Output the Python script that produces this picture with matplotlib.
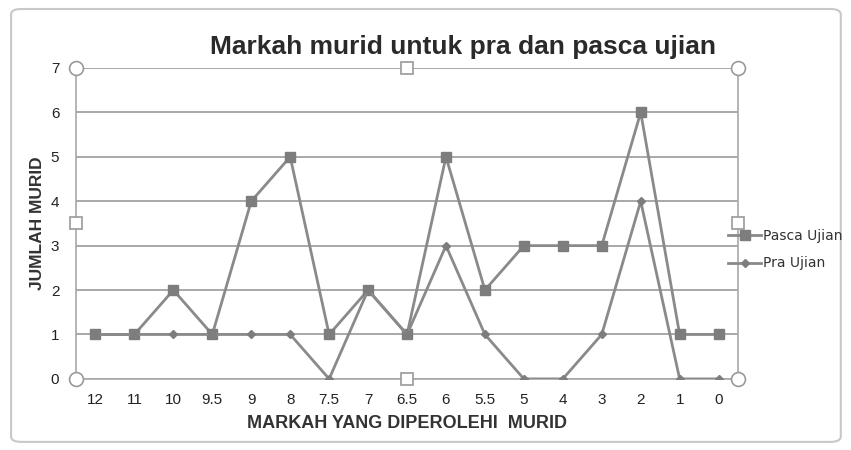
import matplotlib.pyplot as plt
from matplotlib.patches import FancyBboxPatch

categories = ["12", "11", "10", "9.5", "9", "8", "7.5", "7", "6.5", "6", "5.5", "5", "4", "3", "2", "1", "0"]
pasca = [1, 1, 2, 1, 4, 5, 1, 2, 1, 5, 2, 3, 3, 3, 6, 1, 1]
pra = [1, 1, 1, 1, 1, 1, 0, 2, 1, 3, 1, 0, 0, 1, 4, 0, 0]

narrow = ["Liberation Sans Narrow", "Liberation Sans", "DejaVu Sans"]

fig = plt.figure(figsize=(8.51, 4.5), dpi=100)
fig.patch.set_facecolor("white")

# outer chart frame (Excel-like)
frame = FancyBboxPatch((0.013, 0.018), 0.975, 0.962, boxstyle="round,pad=0,rounding_size=0.012",
                       transform=fig.transFigure, facecolor="white", edgecolor="#c8c8c8", lw=1.5,
                       zorder=-10)
fig.patches.append(frame)

ax = fig.add_axes([0.0893, 0.158, 0.778, 0.691])
ax.patch.set_alpha(0)
x = range(len(categories))
ax.plot(x, pasca, color="#8a8a8a", lw=2, marker="s", ms=7, mfc="#7d7d7d", mec="#7d7d7d",
        label="Pasca Ujian", zorder=3)
ax.plot(x, pra, color="#8a8a8a", lw=2, marker="D", ms=4, mfc="#7d7d7d", mec="#7d7d7d",
        label="Pra Ujian", zorder=3)

ax.set_xlim(-0.5, len(categories) - 0.5)
ax.set_ylim(0, 7)
ax.set_yticks(range(8))
ax.set_xticks(list(x))
ax.set_xticklabels(categories, fontsize=11, family=narrow, color="#222222")
ax.set_yticklabels([str(i) for i in range(8)], fontsize=11, family=narrow, color="#222222")
ax.tick_params(length=0, pad=10)
ax.tick_params(axis="y", pad=12)
ax.yaxis.grid(True, color="#9a9a9a", lw=1.2)
ax.set_axisbelow(True)
ax.spines["top"].set_visible(False)
for side in ["left", "right", "bottom"]:
    ax.spines[side].set_color("#a8a8a8")
    ax.spines[side].set_linewidth(1.2)

ax.set_xlabel("MARKAH YANG DIPEROLEHI  MURID", fontsize=13, fontweight="bold",
              family=narrow, color="#333333", labelpad=6)
ax.set_ylabel("JUMLAH MURID", fontsize=12.5, fontweight="bold", family=narrow,
              color="#333333", labelpad=4)
fig.text(0.544, 0.895, "Markah murid untuk pra dan pasca ujian", ha="center", va="center",
         fontsize=19, fontweight="bold", family=narrow, color="#2a2a2a")

# selection handles
for hx, hy in [(0, 0), (1, 0), (0, 1), (1, 1)]:
    ax.plot(hx, hy, marker="o", ms=10, mfc="white", mec="#9a9a9a", mew=1.2,
            transform=ax.transAxes, clip_on=False, zorder=5)
for hx, hy in [(0.5, 0), (0.5, 1), (0, 0.5), (1, 0.5)]:
    ax.plot(hx, hy, marker="s", ms=8, mfc="white", mec="#9a9a9a", mew=1.2,
            transform=ax.transAxes, clip_on=False, zorder=5)

leg = ax.legend(loc="center left", bbox_to_anchor=(0.966, 0.415), frameon=False,
                handlelength=2.4, handletextpad=0.15, labelspacing=0.95,
                prop={"family": "DejaVu Sans", "size": 10})
for t in leg.get_texts():
    t.set_color("#333333")

fig.savefig("out.png", dpi=100)
